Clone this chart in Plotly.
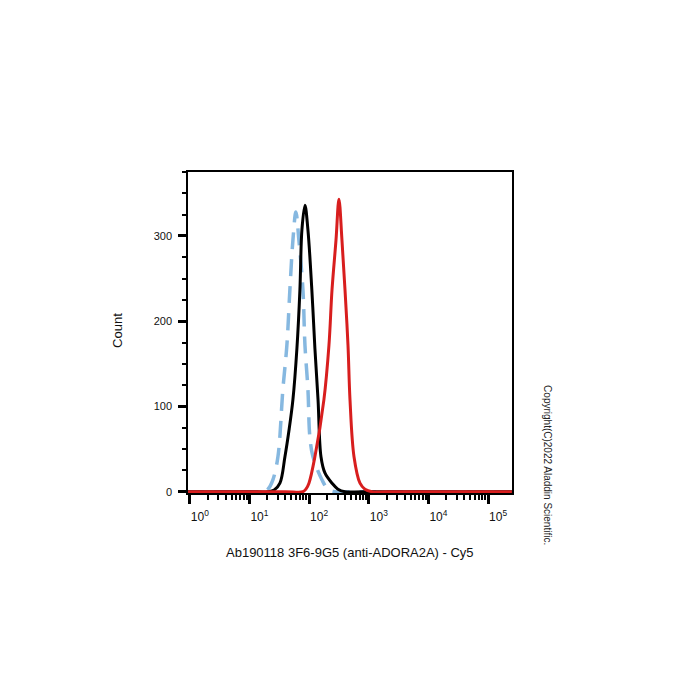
import plotly.graph_objects as go

# ---- data ----
# x: fluorescence intensity (Cy5), y: count
iso_x = [0.9, 10, 17.4, 20.4, 24.7, 30.0, 36.3, 42.4, 47.6, 53.5, 60.0, 67.4, 78.7, 85.1, 95.5, 103, 116, 164, 207, 271, 500, 2.5e5]
iso_y = [0, 0, 0, 3, 14, 41, 120, 172, 237, 295, 328, 295, 237, 172, 120, 64, 41, 14, 3, 0, 0, 0]

ctrl_x = [0.9, 10, 20.4, 26.0, 32.4, 39.3, 46.0, 53.5, 62.4, 70.1, 75.7, 85.1, 95.5, 111, 125, 141, 158, 184, 242, 304, 399, 800, 2.5e5]
ctrl_y = [0, 0, 0, 2, 10, 41, 72, 108, 168, 237, 307, 336, 307, 237, 168, 108, 41, 22, 10, 3, 0, 0, 0]

pos_x = [0.9, 40, 78.7, 88.4, 99.3, 125, 177, 215, 242, 282, 316, 355, 399, 448, 484, 565, 712, 863, 1132, 2000, 2.5e5]
pos_y = [0, 0, 0, 3, 10, 41, 108, 172, 237, 295, 343, 295, 237, 172, 108, 41, 10, 3, 0, 0, 0]

y_major = [0, 100, 200, 300]
x_major = [1, 10, 100, 1000, 10000, 100000]
x_major_text = ["10<sup>0</sup>", "10<sup>1</sup>", "10<sup>2</sup>", "10<sup>3</sup>", "10<sup>4</sup>", "10<sup>5</sup>"]
x_minor = [k * 10 ** d for d in range(0, 5) for k in range(2, 10)]

FONT = "Arial, Liberation Sans, sans-serif"

fig = go.Figure()
fig.add_trace(go.Scatter(x=iso_x, y=iso_y, mode="lines",
                         line=dict(color="#86b8e0", width=3.5, dash="17px,10px", shape="spline", smoothing=1.0),
                         showlegend=False, hoverinfo="skip"))
fig.add_trace(go.Scatter(x=ctrl_x, y=ctrl_y, mode="lines",
                         line=dict(color="#000000", width=3, shape="spline", smoothing=1.0),
                         showlegend=False, hoverinfo="skip"))
fig.add_trace(go.Scatter(x=pos_x, y=pos_y, mode="lines",
                         line=dict(color="#d81e1e", width=3, shape="spline", smoothing=1.0),
                         showlegend=False, hoverinfo="skip"))

fig.update_layout(
    width=700, height=700,
    margin=dict(l=188, r=188, t=172, b=207),
    paper_bgcolor="white", plot_bgcolor="white",
    font=dict(family=FONT, size=11, color="#111"),
    showlegend=False,
)
fig.update_xaxes(
    type="log", range=[-0.03, 5.40],
    tickvals=x_major, ticktext=x_major_text,
    ticks="outside", ticklen=9, tickwidth=3, tickcolor="black",
    ticklabelshift=10, ticklabelstandoff=3,
    tickfont=dict(family=FONT, size=12, color="#111"),
    minor=dict(tickvals=x_minor, ticks="outside", ticklen=5, tickwidth=1.5, tickcolor="black", showgrid=False),
    showline=True, linecolor="black", linewidth=1.5, mirror=True,
    showgrid=False, zeroline=False,
)
fig.update_yaxes(
    range=[-1.5, 375],
    tickvals=y_major,
    ticks="outside", ticklen=8, tickwidth=3, tickcolor="black",
    ticklabelstandoff=4,
    tickfont=dict(family=FONT, size=11, color="#111"),
    minor=dict(dtick=25, tick0=0, ticks="outside", ticklen=4, tickwidth=2, tickcolor="black", showgrid=False),
    showline=True, linecolor="black", linewidth=1.5, mirror=True,
    showgrid=False, zeroline=False,
)

fig.add_annotation(text="Count", xref="paper", yref="paper", x=-0.216, y=0.505,
                   textangle=-90, showarrow=False, font=dict(family=FONT, size=13, color="#111"),
                   xanchor="center", yanchor="middle")
fig.add_annotation(text="Ab190118 3F6-9G5 (anti-ADORA2A) - Cy5", xref="paper", yref="paper",
                   x=0.5, y=-0.184, showarrow=False, font=dict(family=FONT, size=13, color="#111"),
                   xanchor="center", yanchor="middle")
fig.add_annotation(text="Copyright(C)2022 Aladdin Scientific.", xref="paper", yref="paper",
                   x=1.111, y=0.087, textangle=90, showarrow=False,
                   font=dict(family=FONT, size=10, color="#222"),
                   xanchor="center", yanchor="middle")

fig.write_html("out.html")
